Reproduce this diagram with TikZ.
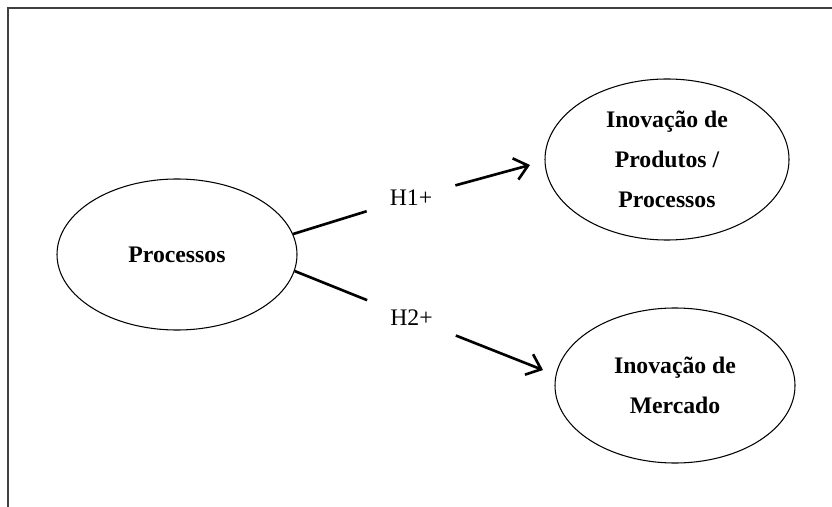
\documentclass[tikz,border=0pt]{standalone}
\usepackage{fontspec}
\setmainfont{Liberation Serif}
\usetikzlibrary{arrows.meta,shapes.geometric}
\tikzset{
  constructnode/.style={ellipse,draw=black,line width=0.6pt,align=center,
    inner sep=0pt,font=\bfseries\fontsize{13.5}{22.7}\selectfont},
  hyplabel/.style={inner sep=0pt,minimum width=1.76cm,minimum height=0.8cm,
    font=\fontsize{13.5}{15}\selectfont},
  hyppath/.style={line width=1.5pt,draw=black},
  hyparrow/.style={hyppath,-{Straight Barb[length=2.6mm,width=4.4mm]}}
}
\begin{document}
\begin{tikzpicture}[x=1cm,y=1cm]
\path[use as bounding box] (0,0) rectangle (16.64,-10.14);
% only the top and left sides of the frame are visible
\draw[black!75,line width=1pt] (16.64,-0.16)--(0.16,-0.16)--(0.16,-10.14);

\node[constructnode,minimum width=4.80cm,minimum height=3.02cm] (proc)
  at (3.54,-5.09) {Processos};
\node[constructnode,minimum width=4.88cm,minimum height=3.22cm] (inovprod)
  at (13.34,-3.19) {Inovação de\\Produtos /\\Processos};
\node[constructnode,minimum width=4.80cm,minimum height=3.10cm] (inovmerc)
  at (13.50,-7.71) {Inovação de\\Mercado};

\node[hyplabel] (h1) at (8.22,-3.95) {H1+};
\node[hyplabel] (h2) at (8.23,-6.36) {H2+};
\coordinate (tipprod) at (10.60,-3.30);
\coordinate (tipmerc) at (10.86,-7.40);

% the label sits in a gap of each hypothesis path
\draw[hyppath] (proc.10)--(h1);
\draw[hyparrow] (h1)--(tipprod);
\draw[hyppath] (proc.-8)--(h2);
\draw[hyparrow] (h2)--(tipmerc);
\end{tikzpicture}
\end{document}
